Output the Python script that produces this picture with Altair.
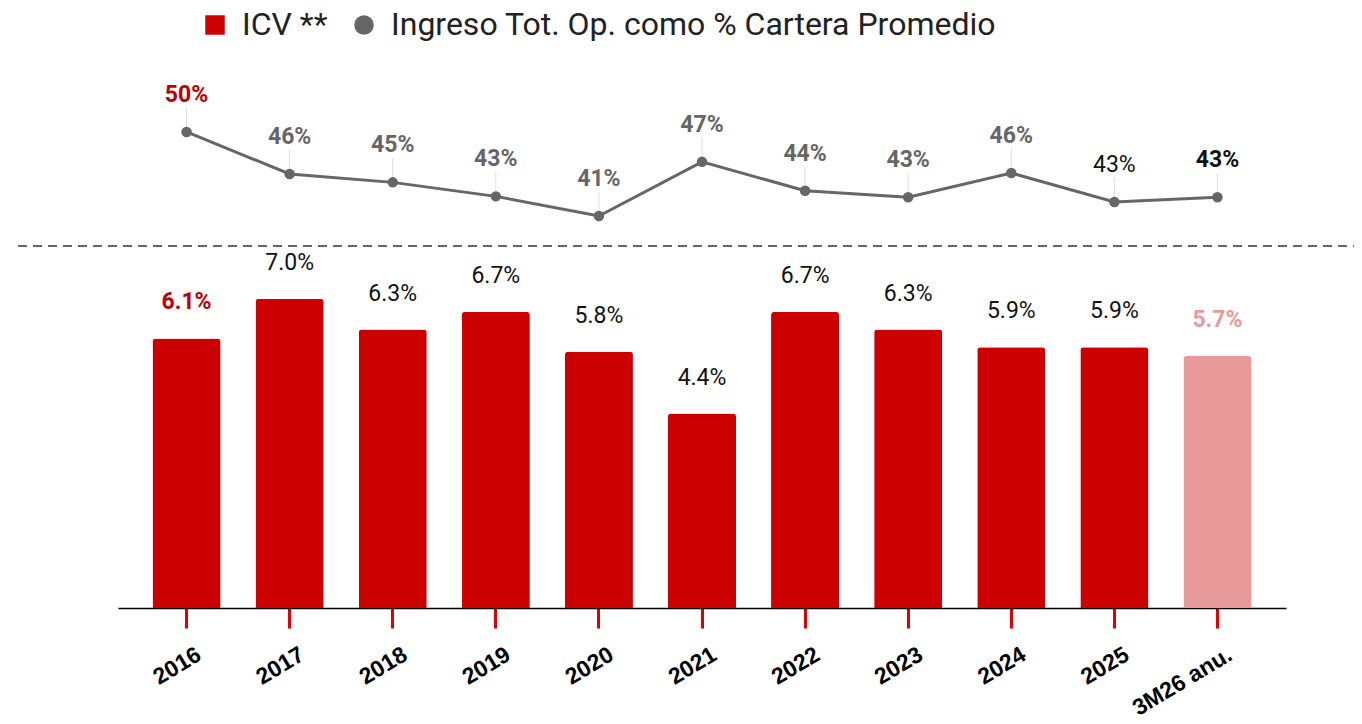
import altair as alt
import pandas as pd

categorias = ["2016", "2017", "2018", "2019", "2020", "2021", "2022", "2023", "2024", "2025", "3M26 anu."]
icv = [6.1, 7.0, 6.3, 6.7, 5.8, 4.4, 6.7, 6.3, 5.9, 5.9, 5.7]
icv_etiquetas = ["6.1%", "7.0%", "6.3%", "6.7%", "5.8%", "4.4%", "6.7%", "6.3%", "5.9%", "5.9%", "5.7%"]
icv_color_etq = ["#c00000"] + ["#111111"] * 9 + ["#e89a9a"]
icv_peso_etq = ["bold"] + ["normal"] * 9 + ["bold"]
anualizado = [False] * 10 + [True]

ingreso = [50.0, 45.5, 44.6, 43.1, 41.0, 46.8, 43.7, 43.0, 45.6, 42.5, 43.0]
ingreso_etiquetas = ["50%", "46%", "45%", "43%", "41%", "47%", "44%", "43%", "46%", "43%", "43%"]
ingreso_color_etq = ["#c00000"] + ["#666666"] * 8 + ["#111111", "#111111"]
ingreso_peso_etq = ["bold"] * 9 + ["normal", "bold"]

series = ["ICV **", "Ingreso Tot. Op. como % Cartera Promedio"]
colores_series = ["#cc0000", "#666666"]
rosa = "#e89a9a"

df = pd.DataFrame({
    "cat": categorias,
    "icv": icv,
    "icv_lbl": icv_etiquetas,
    "icv_lc": icv_color_etq,
    "icv_w": icv_peso_etq,
    "anu": anualizado,
    "ing": ingreso,
    "ing_lbl": ingreso_etiquetas,
    "ing_lc": ingreso_color_etq,
    "ing_w": ingreso_peso_etq,
})

W, H = 1168, 548
y_bar = alt.Scale(domain=[0, 12.4], nice=False, zero=False)
y_line = alt.Scale(domain=[-1.0, 57.71], nice=False, zero=False)
color_scale = alt.Scale(domain=series, range=colores_series)
shape_scale = alt.Scale(domain=series, range=["square", "circle"])

x_enc = alt.X(
    "cat:N", sort=categorias,
    scale=alt.Scale(paddingInner=0.34, paddingOuter=0.335),
    axis=alt.Axis(title=None, labelAngle=-31, labelFont="Liberation Sans",
                  labelFontWeight="bold", labelFontSize=23, labelColor="#000000",
                  tickColor="#e00000", tickSize=20, tickWidth=3,
                  domainColor="#000000", domainWidth=1.5, labelPadding=15,
                  labelOffset=7, grid=False),
)

base = alt.Chart(df).encode(x=x_enc)

bars = base.mark_bar(cornerRadiusTopLeft=3, cornerRadiusTopRight=3).transform_calculate(
    serie="'ICV **'"
).encode(
    y=alt.Y("icv:Q", scale=y_bar, axis=None),
    color=alt.condition("datum.anu", alt.value(rosa),
                        alt.Color("serie:N", scale=color_scale, legend=alt.Legend(title=None))),
)

def bar_text(weight):
    return base.mark_text(font="Roboto", fontSize=23, fontWeight=weight, dy=-29,
                          baseline="alphabetic").transform_filter(
        alt.datum.icv_w == weight
    ).encode(
        y=alt.Y("icv:Q", scale=y_bar, axis=None),
        text="icv_lbl:N",
        fill=alt.Fill("icv_lc:N", scale=None),
    )

leaders = base.mark_rule(color="#dddddd", strokeWidth=1).transform_calculate(
    top="datum.ing + 2.6"
).encode(
    y=alt.Y("ing:Q", scale=y_line, axis=None),
    y2="top:Q",
)

line = base.mark_line(color="#666666", strokeWidth=3).encode(
    y=alt.Y("ing:Q", scale=y_line, axis=None),
)

points = base.mark_point(filled=True, size=110, opacity=1).transform_calculate(
    serie="'Ingreso Tot. Op. como % Cartera Promedio'"
).encode(
    y=alt.Y("ing:Q", scale=y_line, axis=None),
    color=alt.Color("serie:N", scale=color_scale, legend=alt.Legend(title=None)),
    shape=alt.Shape("serie:N", scale=shape_scale, legend=alt.Legend(title=None)),
)

def line_text(weight):
    return base.mark_text(font="Roboto", fontSize=23, fontWeight=weight, dy=-30,
                          baseline="alphabetic").transform_filter(
        alt.datum.ing_w == weight
    ).encode(
        y=alt.Y("ing:Q", scale=y_line, axis=None),
        text="ing_lbl:N",
        fill=alt.Fill("ing_lc:N", scale=None),
    )

divider = alt.Chart(alt.Data(values=[{"d": 1}])).mark_rule(
    color="#666666", strokeWidth=2, strokeDash=[9, 6]
).encode(
    x=alt.value(-100), x2=alt.value(1244), y=alt.value(186)
)

chart = alt.layer(
    bars, bar_text("bold"), bar_text("normal"),
    leaders, line, points, line_text("bold"), line_text("normal"),
    divider,
).resolve_scale(
    y="independent"
).properties(
    width=W, height=H,
    autosize=alt.AutoSizeParams(type="none"),
    padding={"left": 110, "top": 52, "right": 68, "bottom": 108},
).configure_view(
    stroke=None
).configure_legend(
    orient="none", legendX=81, legendY=-51, direction="horizontal",
    labelFont="Roboto", labelFontSize=32, labelColor="#222222", labelLimit=0,
    symbolSize=380, symbolStrokeWidth=0, labelOffset=11, columnPadding=20,
    padding=0,
)

chart.save("out.html", embed_options={"renderer": "svg", "actions": False})
